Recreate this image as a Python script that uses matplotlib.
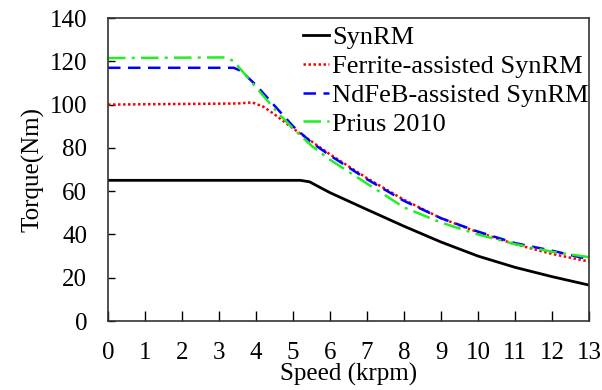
import numpy as np
import matplotlib
matplotlib.use("Agg")
import matplotlib.pyplot as plt

# torque-speed envelopes
synrm_speed = [0, 5.2, 5.45, 5.7, 6, 7, 8, 9, 10, 11, 12, 13]
synrm_torque = [65, 65, 64.3, 62, 59.3, 51.5, 43.8, 36.5, 30, 24.8, 20.5, 16.6]

ferrite_speed = [0, 3.5, 3.9, 4.2, 4.5, 5, 5.5, 6, 7, 8, 9, 10, 11, 12, 13]
ferrite_torque = [100, 100.5, 101, 99, 95.5, 89, 83, 77, 66, 56, 47.5, 41, 35.5, 31, 27.5]

ndfeb_speed = [0, 3.4, 3.6, 4, 4.5, 5, 5.5, 6, 7, 8, 9, 10, 11, 12, 13]
ndfeb_torque = [117, 117, 115.5, 109, 99.5, 90, 82.5, 76.5, 65.5, 55.5, 47.5, 41.3, 36, 32.5, 28.5]

prius_speed = [0, 3.2, 3.4, 3.8, 4.2, 4.6, 5, 5.5, 6, 7, 8, 9, 10, 11, 12, 13]
prius_torque = [121.5, 121.8, 120, 112, 104, 96, 89, 81, 74.5, 63.5, 52.5, 45.5, 40, 35.5, 32, 29.5]

plt.rcParams['font.family'] = ['Liberation Serif', 'DejaVu Serif']

fig = plt.figure(figsize=(6.02, 3.90), dpi=100)
ax = fig.add_axes([0.1794, 0.1769, 0.799, 0.7769])

ax.plot(synrm_speed, synrm_torque, color='black', lw=2.0, ls='-', label='SynRM')
ax.plot(ferrite_speed, ferrite_torque, color='#ff0000', lw=1.8, ls=(0, (1, 1)),
        label='Ferrite-assisted SynRM')
ax.plot(ndfeb_speed, ndfeb_torque, color='#0000ff', lw=1.8, ls=(0, (5, 3)),
        label='NdFeB-assisted SynRM')
ax.plot(prius_speed, prius_torque, color='#22ee22', lw=1.8, ls=(0, (7, 2.5, 1.2, 2.5)),
        label='Prius 2010')

ax.set_xlim(0, 13)
ax.set_ylim(0, 140)
ax.set_xticks(range(0, 14))
ax.set_yticks(range(0, 141, 20))
ax.tick_params(direction='in', labelsize=18, pad=15, length=5, width=1,
               top=False, right=False)
ax.tick_params(axis='x', length=7)
for s in ax.spines.values():
    s.set_color('#333333')
    s.set_linewidth(1.2)

ax.set_xlabel('Speed (krpm)', fontsize=18, labelpad=-1)
ax.set_ylabel('Torque(Nm)', fontsize=18, labelpad=4)

ax.legend(loc='upper right', bbox_to_anchor=(1.037, 1.035), frameon=False, fontsize=19,
          handlelength=1.0, handletextpad=0.1, labelspacing=0.2, borderpad=0.2)

fig.savefig('out.png', dpi=100)
